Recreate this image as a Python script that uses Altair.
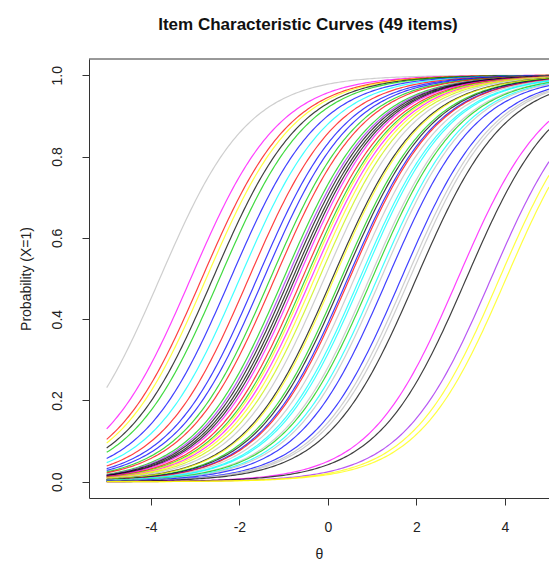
import numpy as np
import pandas as pd
import altair as alt

# Item difficulties (theta where P = 0.5) and line colours
difficulty = [-3.80, -3.10, -2.85, -2.75, -2.60, -2.45, -2.20, -1.99, -1.79, -1.60,
              -1.45, -1.30, -1.20, -1.00, -0.93, -0.87, -0.80, -0.74, -0.68, -0.58,
              -0.50, -0.45, -0.38, -0.30, -0.20, -0.08, 0.10, 0.14, 0.30, 0.36,
              0.45, 0.49, 0.60, 0.72, 0.78, 0.94, 1.00, 1.12, 1.20, 1.35,
              1.66, 1.77, 1.85, 2.00, 2.94, 3.13, 3.69, 3.88, 4.03]
colors = ["#BEBEBE", "#FF00FF", "#FF0000", "#FFFF00", "#000000", "#00CD00", "#0000FF", "#00FFFF", "#FF0000", "#0000FF",
          "#0000FF", "#00CD00", "#FF0000", "#00CD00", "#A020F0", "#000000", "#000000", "#000000", "#FF00FF", "#FF0000",
          "#00CD00", "#FFFF00", "#FF00FF", "#FFFF00", "#C8F000", "#BEBEBE", "#000000", "#FFFF00", "#00CD00", "#000000",
          "#0000FF", "#FF0000", "#BEBEBE", "#00FFFF", "#00FFFF", "#BEBEBE", "#00CD00", "#00FFFF", "#BEBEBE", "#0000FF",
          "#0000FF", "#BEBEBE", "#BEBEBE", "#000000", "#FF00FF", "#000000", "#A020F0", "#FFFF00", "#FFFF00"]
items = [f"I{i+1:02d}" for i in range(len(difficulty))]
theta_grid = np.linspace(-5, 5, 201)

rows = []
for it, b in zip(items, difficulty):
    for t in theta_grid:
        rows.append({"item": it, "theta": t, "p": 1.0 / (1.0 + np.exp(-(t - b)))})
df = pd.DataFrame(rows)

W, H = 460, 439
FONT = "Liberation Sans"
LBL = "datum.value < 0 ? '-' + abs(datum.value) : '' + datum.value"

lines = alt.Chart(df).mark_line(strokeWidth=1.2, opacity=0.75, clip=True).encode(
    x=alt.X("theta:Q", scale=alt.Scale(domain=[-5.4, 5.0], nice=False, zero=False),
            axis=alt.Axis(values=[-4, -2, 0, 2, 4], labelExpr=LBL, title="θ", domain=True,
                          domainColor="#333333", grid=False, tickSize=7, tickColor="#333333",
                          labelFontSize=14, labelFont=FONT, labelColor="#222222", labelPadding=15,
                          titleFont=FONT, titleFontSize=14, titleFontWeight="normal",
                          titleColor="#222222", titlePadding=13, labelFlush=False)),
    y=alt.Y("p:Q", scale=alt.Scale(domain=[-0.04, 1.04], nice=False, zero=False),
            axis=alt.Axis(values=[0, 0.2, 0.4, 0.6, 0.8, 1.0], format=".1f", title="Probability (X=1)",
                          domain=True, domainColor="#333333", grid=False, tickSize=7,
                          tickColor="#333333", labelFontSize=14, labelFont=FONT, labelAngle=-90,
                          labelAlign="center", labelBaseline="bottom", labelColor="#222222",
                          labelPadding=18, titleFont=FONT, titleFontSize=14,
                          titleFontWeight="normal", titleColor="#222222", titlePadding=17,
                          labelFlush=False)),
    color=alt.Color("item:N", scale=alt.Scale(domain=items, range=colors), legend=None),
    detail="item:N",
    order=alt.Order("theta:Q"),
)

top_rule = alt.Chart(pd.DataFrame({"k": [0]})).mark_rule(color="#333333", strokeWidth=1).encode(
    x=alt.value(0), x2=alt.value(W), y=alt.value(0)
)

chart = alt.layer(lines, top_rule).properties(
    width=W, height=H,
    title=alt.TitleParams("Item Characteristic Curves (49 items)", font=FONT, fontSize=17,
                          fontWeight="bold", color="#111111", anchor="middle", dx=-11, offset=25),
    autosize=alt.AutoSizeParams(type="none"),
    padding={"left": 81, "top": 51, "right": 0, "bottom": 66},
).configure_view(stroke=None)

chart.save("out.html", embed_options={"renderer": "svg", "actions": False})
